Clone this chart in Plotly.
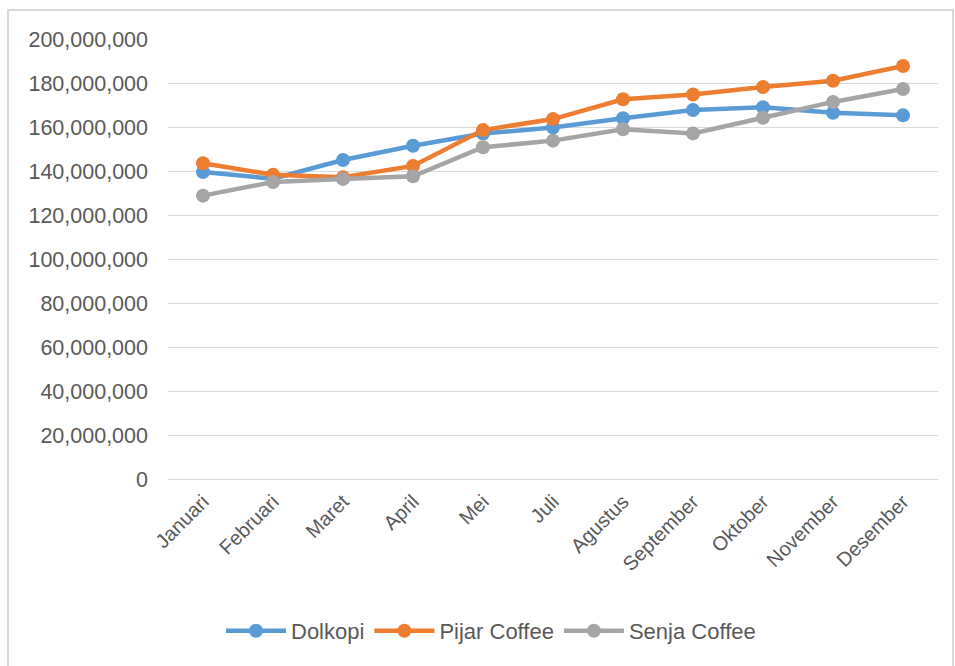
import plotly.graph_objects as go

months = ["Januari", "Februari", "Maret", "April", "Mei", "Juli", "Agustus",
          "September", "Oktober", "November", "Desember"]
dolkopi = [139.5e6, 136.5e6, 145.0e6, 151.5e6, 157.0e6, 159.8e6, 164.0e6,
           167.7e6, 169.0e6, 166.5e6, 165.3e6]
pijar = [143.5e6, 138.3e6, 137.2e6, 142.3e6, 158.6e6, 163.6e6, 172.6e6,
         174.8e6, 178.2e6, 181.0e6, 187.7e6]
senja = [128.8e6, 135.0e6, 136.4e6, 137.6e6, 150.8e6, 153.8e6, 159.0e6,
         157.1e6, 164.2e6, 171.4e6, 177.3e6]
series_names = ["Dolkopi", "Pijar Coffee", "Senja Coffee"]
colors = ["#5B9BD5", "#ED7D31", "#A5A5A5"]

W, H = 955, 666
L, R, T, B = 168, 17, 39, 187
pw, ph = W - L - R, H - T - B

fig = go.Figure()
for name, vals, c in zip(series_names, [dolkopi, pijar, senja], colors):
    fig.add_trace(go.Scatter(
        x=months, y=vals, name=name, mode="lines+markers",
        line=dict(color=c, width=4.5),
        marker=dict(color=c, size=14),
    ))

fam = "Liberation Sans, Arial, sans-serif"

fig.update_layout(
    width=W, height=H,
    margin=dict(l=L, r=R, t=T, b=B),
    paper_bgcolor="white", plot_bgcolor="white",
    font=dict(family=fam, size=21, color="#595959"),
    showlegend=True,
    legend=dict(orientation="h", x=(491 - L) / pw, xanchor="center",
                y=(T + ph - 631) / ph, yanchor="middle",
                font=dict(family=fam, size=22, color="#595959"),
                itemwidth=60, tracegroupgap=0),
    xaxis=dict(type="category", tickangle=-45, showgrid=False, showline=False,
               ticks="", tickfont=dict(size=20), range=[-0.5, 10.5],
               ticklabelstandoff=6),
    yaxis=dict(range=[0, 200e6], dtick=20e6, tickformat=",d",
               showgrid=True, gridcolor="#D9D9D9", gridwidth=1,
               zeroline=True, zerolinecolor="#D9D9D9", zerolinewidth=1,
               showline=False, ticks="", ticklabelstandoff=19,
               tickfont=dict(size=21.5)),
    shapes=[dict(type="rect", xref="paper", yref="paper",
                 x0=(8 - L) / pw, x1=(953 - L) / pw,
                 y0=(T + ph - 700) / ph, y1=(T + ph - 10) / ph,
                 line=dict(color="#D9D9D9", width=2), fillcolor="rgba(0,0,0,0)",
                 layer="below")],
)

fig.write_html("out.html")
